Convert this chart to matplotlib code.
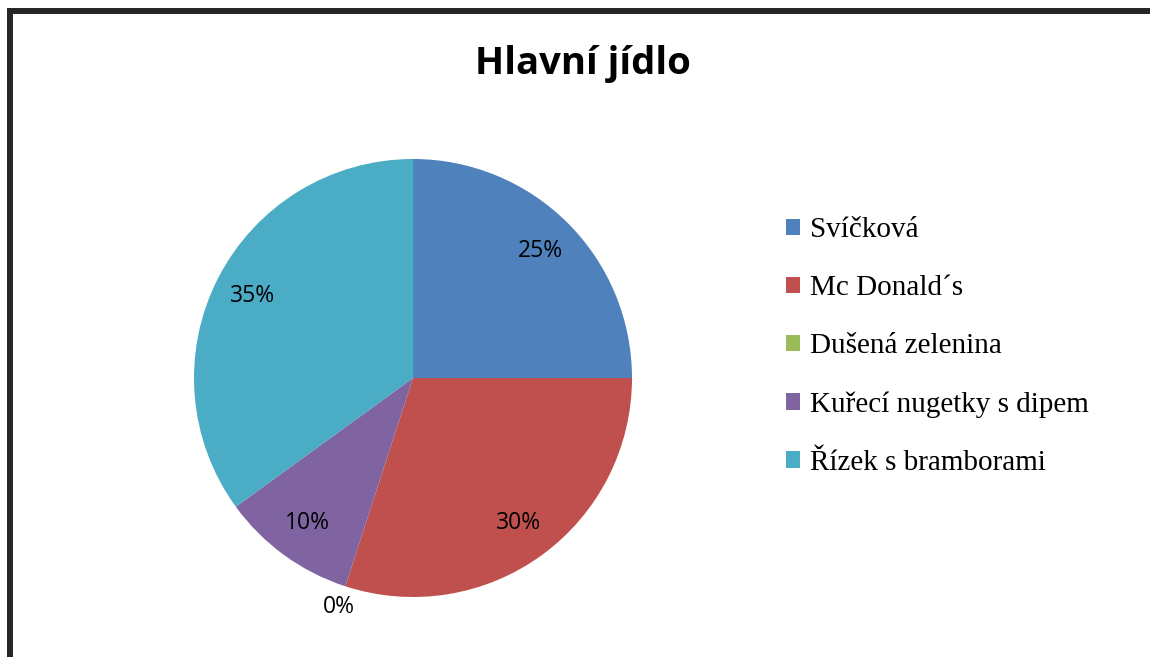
import numpy as np
import matplotlib
matplotlib.use("Agg")
import matplotlib.pyplot as plt
from matplotlib.patches import Rectangle

# data
labels = ["Svíčková", "Mc Donald´s", "Dušená zelenina", "Kuřecí nugetky s dipem", "Řízek s bramborami"]
values = [25, 30, 0, 10, 35]
colors = ["#4F81BD", "#C0504D", "#9BBB59", "#8064A2", "#4BACC6"]
title = "Hlavní jídlo"

W, H = 1150, 657
fig = plt.figure(figsize=(W / 100, H / 100), dpi=100)
fig.patch.set_facecolor("white")

# dark frame round the chart (right and bottom run off the picture)
fig.add_artist(Rectangle((9.5 / W, -0.1), 1.2, (H - 11) / H + 0.1, transform=fig.transFigure,
                         fill=False, edgecolor="#262626", linewidth=4.3))

# pie axes: center (413, 378), radius 219 px
cx, cy, r = 413, 378, 219
ax = fig.add_axes([(cx - r) / W, (H - cy - r) / H, 2 * r / W, 2 * r / H])
wedges, texts, autotexts = ax.pie(values, colors=colors, startangle=90, counterclock=False,
                                  radius=1, autopct="%.0f%%", pctdistance=0.82,
                                  wedgeprops=dict(linewidth=0),
                                  textprops=dict(fontsize=16.5, family="Open Sans", color="black"))
ax.set_xlim(-1, 1)
ax.set_ylim(-1, 1)

# empty slice: label pushed outside the pie
for w, t, v in zip(wedges, autotexts, values):
    if v == 0:
        ang = np.deg2rad((w.theta1 + w.theta2) / 2)
        t.set_position((1.1 * np.cos(ang), 1.1 * np.sin(ang)))

fig.text(583 / W, 1 - 64 / H, title, ha="center", va="center", fontsize=27.5,
         fontweight="bold", family="Open Sans")

fig.legend(wedges, labels, loc="upper left", bbox_to_anchor=(786 / W, 1 - 217 / H),
           frameon=False, prop=dict(family="Liberation Serif", size=21),
           handlelength=0.48, handleheight=0.48, handletextpad=0.35, labelspacing=1.1,
           borderaxespad=0, borderpad=0)

fig.savefig("out.png", dpi=100)
